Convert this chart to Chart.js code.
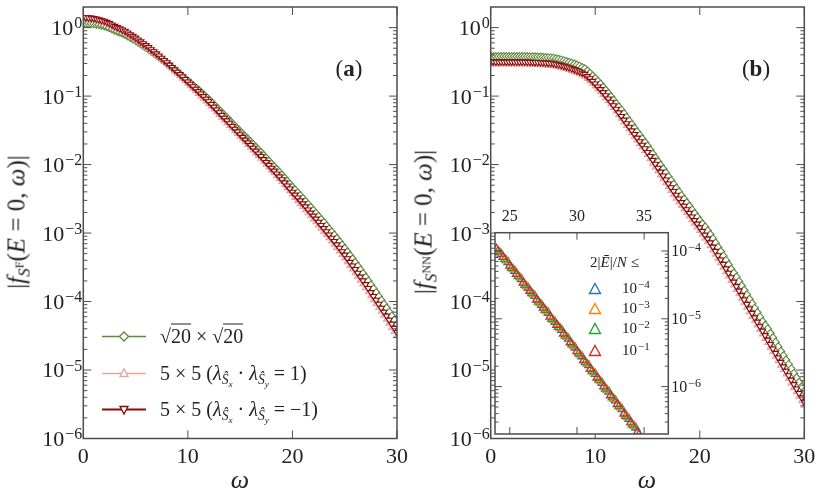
<!DOCTYPE html>
<html>
<head>
<meta charset="utf-8">
<script src="https://cdn.jsdelivr.net/npm/chart.js@4.4.1/dist/chart.umd.min.js"></script>
<style>
  body { margin: 0; background: #fff; }
  #wrap { position: relative; width: 822px; height: 498px; overflow: hidden; font-family: 'Liberation Serif', serif; color: #222; }
  canvas { position: absolute; }
  .txt { position: absolute; white-space: nowrap; line-height: 1; }
  .c { transform: translate(-50%, -50%); }
  .rot { transform: translate(-50%, -50%) rotate(-90deg); }
  .lo { font-size: 0.68em; position: relative; top: 0.32em; }
  .hi { font-size: 0.72em; position: relative; top: -0.55em; }
  .sup { font-size: 0.74em; position: relative; top: -0.45em; margin-left: 1px; }
  .ov { border-top: 1px solid #222; }
  .row { position: absolute; display: flex; align-items: center; transform: translateY(-50%); white-space: nowrap; }
</style>
</head>
<body>
<div id="wrap">
  <canvas id="chartA" width="420" height="498" style="left:0;top:0"></canvas>
  <canvas id="chartB" width="402" height="498" style="left:420px;top:0"></canvas>
  <canvas id="inset" width="230" height="240" style="left:480px;top:205px"></canvas>

  <div class="txt rot" style="left:16px;top:222px;font-size:25px">|<i>f</i><span class="lo"><i>S</i><span class="hi">F</span></span>(<i>E</i> = 0, <i>ω</i>)|</div>
  <div class="txt rot" style="left:423px;top:222px;font-size:25px">|<i>f</i><span class="lo"><i>S</i><span class="hi">NN</span></span>(<i>E</i> = 0, <i>ω</i>)|</div>
  <div class="txt c" style="left:240px;top:480px;font-size:26px"><i>ω</i></div>
  <div class="txt c" style="left:647px;top:480px;font-size:26px"><i>ω</i></div>
  <div class="txt c" style="left:349px;top:68px;font-size:23px">(<b>a</b>)</div>
  <div class="txt c" style="left:756px;top:68px;font-size:23px">(<b>b</b>)</div>

  <!-- legend panel a -->
  <div class="row" style="left:102px;top:336px;font-size:20px">
    <svg width="44" height="16"><line x1="0" y1="8" x2="44" y2="8" stroke="#5d8a3f" stroke-width="1.5"/><polygon points="22,3.5 26.5,8 22,12.5 17.5,8" fill="#fff" stroke="#5d8a3f" stroke-width="1.3"/></svg>
    <span style="margin-left:14px">√<span class="ov">20</span> × √<span class="ov">20</span></span>
  </div>
  <div class="row" style="left:102px;top:373px;font-size:20px">
    <svg width="44" height="16"><line x1="0" y1="8" x2="44" y2="8" stroke="#e3a5a5" stroke-width="1.5"/><polygon points="22,3.5 26,11 18,11" fill="#fff" stroke="#e3a5a5" stroke-width="1.3"/></svg>
    <span style="margin-left:14px">5 × 5 (<i>λ</i><span class="lo"><i>Ŝ</i><span class="lo"><i>x</i></span></span> · <i>λ</i><span class="lo"><i>Ŝ</i><span class="lo"><i>y</i></span></span> = 1)</span>
  </div>
  <div class="row" style="left:102px;top:409px;font-size:20px">
    <svg width="44" height="16"><line x1="0" y1="8" x2="44" y2="8" stroke="#8b0a0a" stroke-width="2"/><polygon points="18,5 26,5 22,12.5" fill="#fff" stroke="#8b0a0a" stroke-width="1.3"/></svg>
    <span style="margin-left:14px">5 × 5 (<i>λ</i><span class="lo"><i>Ŝ</i><span class="lo"><i>x</i></span></span> · <i>λ</i><span class="lo"><i>Ŝ</i><span class="lo"><i>y</i></span></span> = −1)</span>
  </div>

  <!-- legend inset -->
  <div class="txt" style="left:590px;top:255px;font-size:15px">2|<i>Ē</i>|/<i>N</i> ≤</div>
  <div id="insetLegend"></div>
</div>

<script>
// omega grid of the main panels
const omega = [
  0, 0.25, 0.5, 0.75, 1, 1.25, 1.5, 1.75, 2, 2.25, 2.5, 2.75, 3, 3.25, 3.5, 3.75, 4, 4.25, 4.5, 4.75,
  5, 5.25, 5.5, 5.75, 6, 6.25, 6.5, 6.75, 7, 7.25, 7.5, 7.75, 8, 8.25, 8.5, 8.75, 9, 9.25, 9.5, 9.75,
  10, 10.25, 10.5, 10.75, 11, 11.25, 11.5, 11.75, 12, 12.25, 12.5, 12.75, 13, 13.25, 13.5, 13.75, 14, 14.25, 14.5, 14.75,
  15, 15.25, 15.5, 15.75, 16, 16.25, 16.5, 16.75, 17, 17.25, 17.5, 17.75, 18, 18.25, 18.5, 18.75, 19, 19.25, 19.5, 19.75,
  20, 20.25, 20.5, 20.75, 21, 21.25, 21.5, 21.75, 22, 22.25, 22.5, 22.75, 23, 23.25, 23.5, 23.75, 24, 24.25, 24.5, 24.75,
  25, 25.25, 25.5, 25.75, 26, 26.25, 26.5, 26.75, 27, 27.25, 27.5, 27.75, 28, 28.25, 28.5, 28.75, 29, 29.25, 29.5, 29.75, 30];

// panel (a): |f_SF|
const sqrtA = [
  1.148, 1.150, 1.151, 1.143, 1.135, 1.118, 1.102, 1.080, 1.059, 1.023,
  0.989, 0.950, 0.912, 0.881, 0.851, 0.822, 0.794, 0.754, 0.716, 0.680,
  0.646, 0.609, 0.575, 0.543, 0.513, 0.482, 0.452, 0.424, 0.398, 0.372,
  0.347, 0.324, 0.302, 0.280, 0.260, 0.241, 0.224, 0.208, 0.193, 0.179,
  0.166, 0.154, 0.143, 0.133, 0.123, 0.114, 0.105, 0.0967, 0.0891, 0.0815,
  0.0746, 0.0682, 0.0624, 0.0571, 0.0522, 0.0478, 0.0437, 0.0399, 0.0365, 0.0334,
  0.0305, 0.0279, 0.0256, 0.0234, 0.0214, 0.0196, 0.0179, 0.0164, 0.0150, 0.0136,
  0.0124, 0.0112, 0.0102, 0.00929, 0.00846, 0.00770, 0.00700, 0.00633, 0.00572, 0.00517,
  0.00468, 0.00426, 0.00387, 0.00352, 0.00320, 0.00290, 0.00262, 0.00237, 0.00214, 0.00194,
  0.00175, 0.00158, 0.00143, 0.00128, 0.00115, 1.04e-3, 9.33e-4, 8.34e-4, 7.46e-4, 6.67e-4,
  5.96e-4, 5.29e-4, 4.70e-4, 4.18e-4, 3.72e-4, 3.28e-4, 2.90e-4, 2.56e-4, 2.26e-4, 1.99e-4,
  1.75e-4, 1.54e-4, 1.35e-4, 1.18e-4, 1.04e-4, 9.14e-5, 8.04e-5, 7.02e-5, 6.13e-5, 5.36e-5, 4.68e-5];
const plusA = [
  1.35, 1.345, 1.34, 1.325, 1.31, 1.28, 1.25, 1.22, 1.19, 1.144,
  1.10, 1.049, 1.00, 0.961, 0.923, 0.886, 0.851, 0.803, 0.758, 0.716,
  0.676, 0.635, 0.596, 0.559, 0.525, 0.490, 0.457, 0.426, 0.398, 0.369,
  0.343, 0.318, 0.295, 0.272, 0.251, 0.232, 0.214, 0.197, 0.182, 0.168,
  0.155, 0.141, 0.129, 0.119, 0.109, 0.100, 0.0923, 0.0846, 0.0776, 0.0708,
  0.0646, 0.0588, 0.0536, 0.0489, 0.0447, 0.0407, 0.0371, 0.0339, 0.0309, 0.0282,
  0.0257, 0.0235, 0.0214, 0.0195, 0.0178, 0.0162, 0.0147, 0.0135, 0.0123, 0.0112,
  0.0101, 0.00916, 0.00831, 0.00754, 0.00684, 0.00621, 0.00563, 0.00507, 0.00457, 0.00412,
  0.00371, 0.00330, 0.00294, 0.00267, 0.00242, 0.00218, 0.00197, 0.00178, 0.00160, 0.00145,
  0.00131, 0.00117, 0.00105, 9.45e-4, 8.50e-4, 7.62e-4, 6.83e-4, 6.09e-4, 5.43e-4, 4.84e-4,
  4.31e-4, 3.80e-4, 3.35e-4, 2.97e-4, 2.63e-4, 2.32e-4, 2.04e-4, 1.80e-4, 1.58e-4, 1.38e-4,
  1.21e-4, 1.06e-4, 9.35e-5, 8.18e-5, 7.16e-5, 6.27e-5, 5.49e-5, 4.78e-5, 4.17e-5, 3.63e-5, 3.16e-5];
const minusA = [
  1.41, 1.405, 1.40, 1.385, 1.37, 1.34, 1.31, 1.28, 1.25, 1.20,
  1.15, 1.10, 1.05, 1.007, 0.966, 0.928, 0.891, 0.841, 0.794, 0.750,
  0.708, 0.665, 0.624, 0.586, 0.550, 0.513, 0.479, 0.447, 0.417, 0.387,
  0.359, 0.333, 0.309, 0.285, 0.263, 0.243, 0.224, 0.207, 0.191, 0.176,
  0.162, 0.150, 0.138, 0.127, 0.117, 0.108, 0.0989, 0.0907, 0.0832, 0.0759,
  0.0692, 0.0631, 0.0575, 0.0525, 0.0479, 0.0437, 0.0398, 0.0363, 0.0331, 0.0302,
  0.0275, 0.0251, 0.0229, 0.0209, 0.0191, 0.0174, 0.0158, 0.0144, 0.0132, 0.0119,
  0.0108, 0.00981, 0.00891, 0.00808, 0.00733, 0.00665, 0.00603, 0.00544, 0.00490, 0.00442,
  0.00398, 0.00361, 0.00327, 0.00297, 0.00269, 0.00243, 0.00219, 0.00197, 0.00178, 0.00161,
  0.00145, 0.00130, 0.00117, 1.05e-3, 9.44e-4, 8.46e-4, 7.59e-4, 6.77e-4, 6.03e-4, 5.37e-4,
  4.79e-4, 4.24e-4, 3.76e-4, 3.33e-4, 2.95e-4, 2.60e-4, 2.29e-4, 2.02e-4, 1.78e-4, 1.56e-4,
  1.36e-4, 1.19e-4, 1.05e-4, 9.19e-5, 8.04e-5, 7.04e-5, 6.17e-5, 5.37e-5, 4.68e-5, 4.08e-5, 3.55e-5];

// panel (b): |f_SNN|
const sqrtB = [
  0.379, 0.379, 0.379, 0.379, 0.379, 0.379, 0.379, 0.379, 0.379, 0.379,
  0.379, 0.379, 0.379, 0.379, 0.378, 0.377, 0.376, 0.375, 0.373, 0.372,
  0.370, 0.367, 0.365, 0.362, 0.359, 0.352, 0.346, 0.338, 0.330, 0.321,
  0.313, 0.303, 0.294, 0.284, 0.274, 0.262, 0.251, 0.233, 0.216, 0.198,
  0.181, 0.165, 0.150, 0.135, 0.122, 0.109, 0.0980, 0.0872, 0.0775, 0.0695,
  0.0624, 0.0553, 0.0490, 0.0434, 0.0385, 0.0340, 0.0301, 0.0267, 0.0237, 0.0210,
  0.0186, 0.0163, 0.0143, 0.0125, 0.0110, 0.00974, 0.00862, 0.00755, 0.00662, 0.00583,
  0.00513, 0.00452, 0.00398, 0.00352, 0.00312, 0.00277, 0.00246, 0.00218, 0.00193, 0.00171,
  0.00151, 0.00136, 0.00123, 1.08e-3, 9.56e-4, 8.28e-4, 7.17e-4, 6.20e-4, 5.37e-4, 4.63e-4,
  3.99e-4, 3.44e-4, 2.96e-4, 2.60e-4, 2.29e-4, 1.97e-4, 1.70e-4, 1.46e-4, 1.26e-4, 1.08e-4,
  9.33e-5, 8.03e-5, 6.91e-5, 5.95e-5, 5.13e-5, 4.52e-5, 3.99e-5, 3.44e-5, 2.96e-5, 2.55e-5,
  2.19e-5, 1.88e-5, 1.62e-5, 1.40e-5, 1.21e-5, 1.04e-5, 8.95e-6, 7.70e-6, 6.63e-6, 5.71e-6, 4.92e-6];
const plusB = [
  0.294, 0.294, 0.294, 0.294, 0.294, 0.294, 0.294, 0.294, 0.294, 0.294,
  0.294, 0.294, 0.294, 0.294, 0.293, 0.292, 0.291, 0.290, 0.289, 0.288,
  0.286, 0.285, 0.283, 0.281, 0.278, 0.273, 0.268, 0.262, 0.256, 0.249,
  0.243, 0.235, 0.228, 0.220, 0.212, 0.203, 0.194, 0.180, 0.167, 0.153,
  0.140, 0.127, 0.116, 0.105, 0.0949, 0.0849, 0.0760, 0.0676, 0.0601, 0.0533,
  0.0472, 0.0418, 0.0370, 0.0328, 0.0291, 0.0258, 0.0228, 0.0202, 0.0179, 0.0158,
  0.0140, 0.0121, 0.0104, 0.00913, 0.00802, 0.00703, 0.00616, 0.00540, 0.00473, 0.00416,
  0.00366, 0.00322, 0.00284, 0.00252, 0.00223, 0.00198, 0.00176, 0.00156, 0.00138, 0.00122,
  0.00108, 9.52e-4, 8.40e-4, 7.40e-4, 6.52e-4, 5.65e-4, 4.89e-4, 4.23e-4, 3.66e-4, 3.16e-4,
  2.72e-4, 2.34e-4, 2.02e-4, 1.73e-4, 1.49e-4, 1.29e-4, 1.11e-4, 9.55e-5, 8.21e-5, 7.07e-5,
  6.08e-5, 5.24e-5, 4.51e-5, 3.89e-5, 3.35e-5, 2.88e-5, 2.48e-5, 2.14e-5, 1.84e-5, 1.58e-5,
  1.36e-5, 1.17e-5, 1.01e-5, 8.70e-6, 7.49e-6, 6.45e-6, 5.55e-6, 4.78e-6, 4.11e-6, 3.54e-6, 3.05e-6];
const minusB = [
  0.316, 0.316, 0.316, 0.316, 0.316, 0.316, 0.316, 0.316, 0.316, 0.316,
  0.316, 0.316, 0.316, 0.316, 0.315, 0.314, 0.313, 0.312, 0.311, 0.310,
  0.308, 0.306, 0.304, 0.302, 0.299, 0.293, 0.288, 0.281, 0.275, 0.268,
  0.261, 0.253, 0.245, 0.236, 0.228, 0.218, 0.209, 0.194, 0.180, 0.165,
  0.151, 0.137, 0.125, 0.113, 0.102, 0.0913, 0.0817, 0.0726, 0.0646, 0.0572,
  0.0507, 0.0449, 0.0398, 0.0353, 0.0313, 0.0277, 0.0245, 0.0217, 0.0193, 0.0171,
  0.0151, 0.0132, 0.0116, 0.0102, 0.00891, 0.00781, 0.00684, 0.00599, 0.00525, 0.00462,
  0.00407, 0.00359, 0.00316, 0.00280, 0.00248, 0.00220, 0.00195, 0.00173, 0.00153, 0.00136,
  0.00120, 1.06e-3, 9.33e-4, 8.22e-4, 7.24e-4, 6.27e-4, 5.43e-4, 4.70e-4, 4.07e-4, 3.51e-4,
  3.02e-4, 2.60e-4, 2.24e-4, 1.93e-4, 1.66e-4, 1.43e-4, 1.23e-4, 1.06e-4, 9.12e-5, 7.85e-5,
  6.76e-5, 5.82e-5, 5.01e-5, 4.32e-5, 3.72e-5, 3.20e-5, 2.75e-5, 2.37e-5, 2.04e-5, 1.76e-5,
  1.51e-5, 1.30e-5, 1.12e-5, 9.65e-6, 8.32e-6, 7.16e-6, 6.17e-6, 5.31e-6, 4.57e-6, 3.94e-6, 3.39e-6];

// inset: one x grid per threshold 2|E|/N <= 10^-1 ... 10^-4
const insetX1 = [24, 24.5, 25, 25.5, 26, 26.5, 27, 27.5, 28, 28.5, 29, 29.5, 30, 30.5, 31, 31.5, 32, 32.5, 33, 33.5, 34, 34.5];
const inset1 = [1.07e-4, 8.13e-5, 6.03e-5, 4.57e-5, 3.39e-5, 2.57e-5, 1.91e-5, 1.45e-5, 1.07e-5, 8.13e-6, 6.03e-6,
  4.47e-6, 3.31e-6, 2.45e-6, 1.82e-6, 1.35e-6, 1.00e-6, 7.41e-7, 5.50e-7, 3.98e-7, 2.95e-7, 2.14e-7];
const insetX2 = [24.125, 24.625, 25.125, 25.625, 26.125, 26.625, 27.125, 27.625, 28.125, 28.625, 29.125, 29.625,
  30.125, 30.625, 31.125, 31.625, 32.125, 32.625, 33.125, 33.625, 34.125, 34.625];
const inset2 = [9.95e-5, 7.56e-5, 5.61e-5, 4.25e-5, 3.15e-5, 2.39e-5, 1.78e-5, 1.35e-5, 9.95e-6, 7.56e-6, 5.61e-6,
  4.16e-6, 3.08e-6, 2.28e-6, 1.69e-6, 1.26e-6, 9.30e-7, 6.89e-7, 5.12e-7, 3.70e-7, 2.74e-7, 1.99e-7];
const insetX3 = [24.25, 24.75, 25.25, 25.75, 26.25, 26.75, 27.25, 27.75, 28.25, 28.75, 29.25, 29.75,
  30.25, 30.75, 31.25, 31.75, 32.25, 32.75, 33.25, 33.75, 34.25];
const inset3 = [9.52e-5, 7.24e-5, 5.37e-5, 4.07e-5, 3.02e-5, 2.29e-5, 1.70e-5, 1.29e-5, 9.52e-6, 7.24e-6, 5.37e-6,
  3.98e-6, 2.95e-6, 2.18e-6, 1.62e-6, 1.20e-6, 8.90e-7, 6.59e-7, 4.90e-7, 3.54e-7, 2.63e-7];
const insetX4 = [24.375, 24.875, 25.375, 25.875, 26.375, 26.875, 27.375, 27.875, 28.375, 28.875, 29.375, 29.875,
  30.375, 30.875, 31.375, 31.875, 32.375, 32.875, 33.375, 33.875, 34.375];
const inset4 = [8.99e-5, 6.83e-5, 5.07e-5, 3.84e-5, 2.85e-5, 2.16e-5, 1.60e-5, 1.22e-5, 8.99e-6, 6.83e-6, 5.07e-6,
  3.75e-6, 2.78e-6, 2.06e-6, 1.53e-6, 1.13e-6, 8.40e-7, 6.22e-7, 4.62e-7, 3.34e-7, 2.48e-7];

// ticks and labels
const xTicksMain = [0, 10, 20, 30];
const yTicksMain = [1e-6, 1e-5, 1e-4, 1e-3, 1e-2, 1e-1, 1];
const yTickExpMain = ['−6', '−5', '−4', '−3', '−2', '−1', '0'];
const insetXTicks = [25, 30, 35];
const insetYTicks = [1e-6, 1e-5, 1e-4];
const insetYTickExp = ['−6', '−5', '−4'];
const insetLegendExp = ['−4', '−3', '−2', '−1'];
const insetColors = ['#1f77b4', '#ff7f0e', '#2ca02c', '#d62728'];

const FONT = "'Liberation Serif', serif";
Chart.defaults.font.family = FONT;
Chart.defaults.color = '#222';

// frame + inward ticks on all four sides, like the original axes
function frameTicks(major, minor) {
  return {
    id: 'frameTicks',
    afterDraw(chart) {
      const { ctx, chartArea: a } = chart;
      const xs = chart.scales.x, ys = chart.scales.y;
      ctx.save();
      ctx.strokeStyle = '#4d4d4d';
      ctx.lineWidth = 1;
      ctx.beginPath();
      xs.ticks.forEach(t => {
        const p = xs.getPixelForValue(t.value);
        ctx.moveTo(p, a.bottom); ctx.lineTo(p, a.bottom - major);
        ctx.moveTo(p, a.top); ctx.lineTo(p, a.top + major);
      });
      ys.ticks.forEach(t => {
        const p = ys.getPixelForValue(t.value);
        ctx.moveTo(a.left, p); ctx.lineTo(a.left + major, p);
        ctx.moveTo(a.right, p); ctx.lineTo(a.right - major, p);
      });
      for (let k = -8; k <= 1; k++) {
        for (let m = 2; m <= 9; m++) {
          const v = m * Math.pow(10, k);
          if (v <= ys.min || v >= ys.max) continue;
          const p = ys.getPixelForValue(v);
          ctx.moveTo(a.left, p); ctx.lineTo(a.left + minor, p);
          ctx.moveTo(a.right, p); ctx.lineTo(a.right - minor, p);
        }
      }
      ctx.stroke();
      ctx.lineWidth = 1.5;
      ctx.strokeRect(a.left, a.top, a.width, a.height);
      ctx.restore();
    }
  };
}

// "10" with a raised exponent at each y tick
function powLabels(exps, side, baseSize, expSize, pad) {
  return {
    id: 'powLabels',
    afterDraw(chart) {
      const { ctx, chartArea: a } = chart;
      const ys = chart.scales.y;
      ctx.save();
      ctx.fillStyle = '#222';
      ctx.textAlign = 'left';
      ctx.textBaseline = 'alphabetic';
      ys.ticks.forEach((t, i) => {
        const y = ys.getPixelForValue(t.value);
        ctx.font = baseSize + 'px ' + FONT;
        const wb = ctx.measureText('10').width;
        ctx.font = expSize + 'px ' + FONT;
        const we = ctx.measureText(exps[i]).width;
        const x0 = side === 'left' ? a.left - pad - wb - we - 1 : a.right + pad;
        ctx.font = baseSize + 'px ' + FONT;
        ctx.fillText('10', x0, y + baseSize * 0.34);
        ctx.font = expSize + 'px ' + FONT;
        ctx.fillText(exps[i], x0 + wb + 1, y + 0.5);
      });
      ctx.restore();
    }
  };
}

const whiteArea = {
  id: 'whiteArea',
  beforeDraw(chart) {
    const { ctx, chartArea: a } = chart;
    ctx.save();
    ctx.fillStyle = '#fff';
    ctx.fillRect(a.left, a.top, a.width, a.height);
    ctx.restore();
  }
};

function series(xs, ys, opt) {
  return {
    data: xs.map((x, i) => ({ x: x, y: ys[i] })),
    borderColor: opt.color,
    borderWidth: opt.width,
    showLine: opt.line !== false,
    pointStyle: opt.style,
    pointRotation: opt.rot || 0,
    pointRadius: opt.radius,
    pointBorderColor: opt.color,
    pointBackgroundColor: opt.fill,
    pointBorderWidth: opt.pw || 1.1,
    order: opt.order,
    tension: 0
  };
}

function mainChart(id, sqrtVals, plusVals, minusVals, yWidth, padRight) {
  return new Chart(document.getElementById(id), {
    type: 'line',
    data: {
      datasets: [
        series(omega, sqrtVals, { color: '#5d8a3f', width: 1.5, style: 'rectRot', radius: 3.9, fill: '#fff', order: 3 }),
        series(omega, plusVals, { color: '#e3a5a5', width: 1.5, style: 'triangle', radius: 3.6, fill: '#f3d2d2', order: 2 }),
        series(omega, minusVals, { color: '#8b0a0a', width: 2, style: 'triangle', rot: 180, radius: 3.6, fill: '#fff', order: 1 })
      ]
    },
    options: {
      responsive: false,
      animation: false,
      layout: { padding: { top: 7, right: padRight, left: 0, bottom: 0 } },
      plugins: { legend: { display: false }, tooltip: { enabled: false } },
      scales: {
        x: {
          type: 'linear', min: 0, max: 30,
          grid: { display: false, drawTicks: false },
          border: { display: false },
          ticks: { font: { size: 22 }, padding: 6 },
          afterBuildTicks: s => { s.ticks = xTicksMain.map(v => ({ value: v })); },
          afterFit: s => { s.height = 59.5; s.paddingLeft = 0; s.paddingRight = 0; }
        },
        y: {
          type: 'logarithmic', min: 1e-6, max: 2,
          grid: { display: false, drawTicks: false },
          border: { display: false },
          ticks: { display: false },
          afterBuildTicks: s => { s.ticks = yTicksMain.map(v => ({ value: v })); },
          afterFit: s => { s.width = yWidth; s.paddingTop = 0; s.paddingBottom = 0; }
        }
      }
    },
    plugins: [frameTicks(8, 4), powLabels(yTickExpMain, 'left', 22, 16, 1)]
  });
}

mainChart('chartA', sqrtA, plusA, minusA, 83.3, 23);
mainChart('chartB', sqrtB, plusB, minusB, 70.7, 17.7);

// inset of panel (b)
const insetXs = [insetX4, insetX3, insetX2, insetX1];
const insetSets = [inset4, inset3, inset2, inset1].map((vals, i) =>
  series(insetXs[i], vals, { color: insetColors[i], width: 1.3, line: false, style: 'triangle', radius: 4.6, fill: 'rgba(0,0,0,0)', pw: 1.4, order: 4 - i }));

new Chart(document.getElementById('inset'), {
  type: 'line',
  data: { datasets: insetSets },
  options: {
    responsive: false,
    animation: false,
    layout: { padding: { top: 0, right: 0, left: 15, bottom: 11 } },
    plugins: { legend: { display: false }, tooltip: { enabled: false } },
    scales: {
      x: {
        type: 'linear', position: 'top', min: 23.9, max: 36.8,
        grid: { display: false, drawTicks: false },
        border: { display: false },
        ticks: { font: { size: 16 }, padding: 6 },
        afterBuildTicks: s => { s.ticks = insetXTicks.map(v => ({ value: v })); },
        afterFit: s => { s.height = 27.7; s.paddingLeft = 0; s.paddingRight = 0; }
      },
      y: {
        type: 'logarithmic', position: 'right', min: 2.0e-7, max: 1.86e-4,
        grid: { display: false, drawTicks: false },
        border: { display: false },
        ticks: { display: false },
        afterBuildTicks: s => { s.ticks = insetYTicks.map(v => ({ value: v })); },
        afterFit: s => { s.width = 41.7; s.paddingTop = 0; s.paddingBottom = 0; }
      }
    }
  },
  plugins: [whiteArea, frameTicks(7, 3.5), powLabels(insetYTickExp, 'right', 16, 12, 3)]
});

// inset legend entries
const rowsY = [288, 308, 328, 350];
const legendBox = document.getElementById('insetLegend');
insetLegendExp.forEach((ex, i) => {
  const row = document.createElement('div');
  row.className = 'row';
  row.style.left = '588px';
  row.style.top = rowsY[i] + 'px';
  row.style.fontSize = '15px';
  row.innerHTML = '<svg width="14" height="14"><polygon points="7,2 12.5,12 1.5,12" fill="none" stroke="' +
    insetColors[i] + '" stroke-width="1.4"/></svg><span style="margin-left:20px">10<span class="sup">' + ex + '</span></span>';
  legendBox.appendChild(row);
});
</script>
</body>
</html>
